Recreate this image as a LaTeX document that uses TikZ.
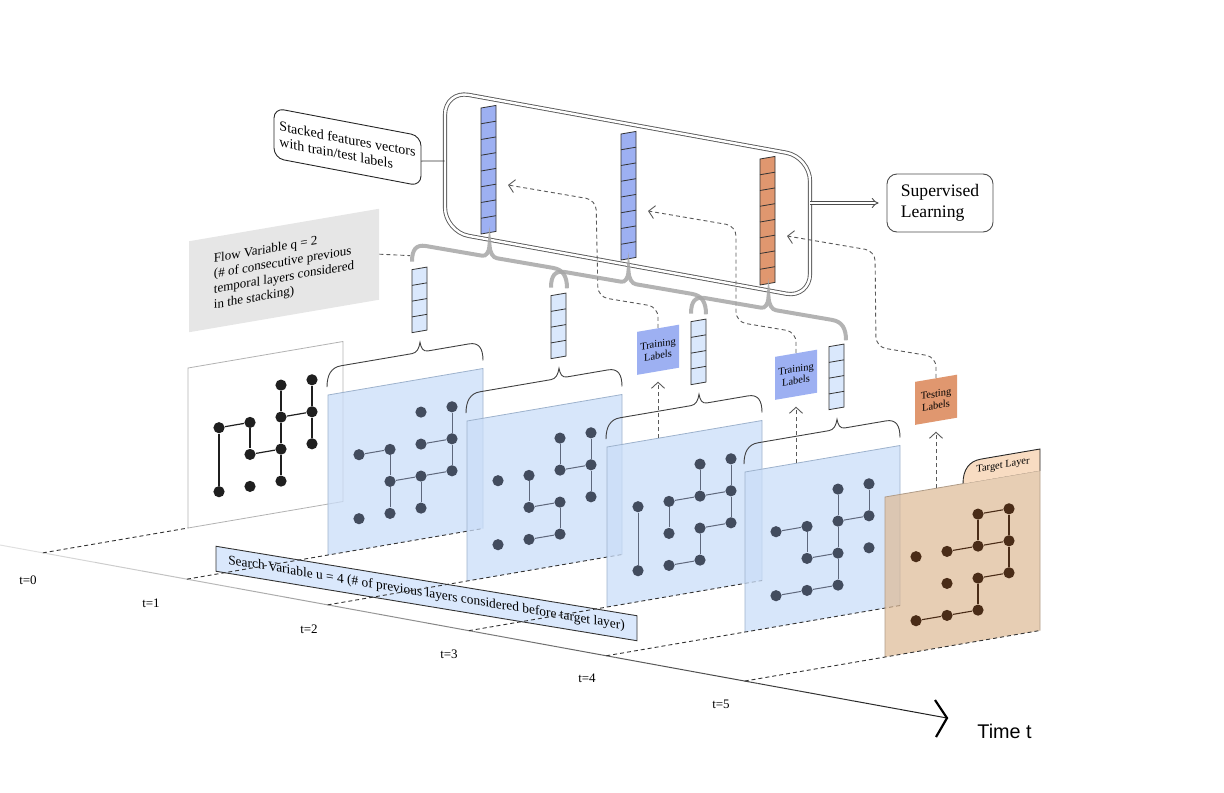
\documentclass[tikz,border=0pt]{standalone}
\usepackage{fontspec}
\setmainfont{Liberation Serif}
\newfontfamily\axisfont{Liberation Sans}
\usepackage{tikz}
\usetikzlibrary{arrows.meta,calc}
\definecolor{PlaneBlue}{HTML}{CADDF8}
\definecolor{PlaneEdge}{HTML}{9DB2CC}
\definecolor{CellBlue}{HTML}{DAE8FC}
\definecolor{StackBlue}{HTML}{9DB0F2}
\definecolor{StackOrange}{HTML}{E0976F}
\definecolor{TargetTan}{HTML}{DDB994}
\definecolor{TargetEdge}{HTML}{B09C88}
\definecolor{TabPeach}{HTML}{F8DCC2}
\definecolor{GraphSlate}{HTML}{424C5E}
\definecolor{EdgeSlate}{HTML}{5E687C}
\definecolor{GraphBrown}{HTML}{4A2C17}
\definecolor{FlowGray}{HTML}{E6E6E6}
\newcommand{\vertexlist}{0/1,1/1,2/0,3/0,2/1,3/1,1/2,2/2,3/2,0/3,1/3,2/3}

\begin{document}
\begin{tikzpicture}[x=0.5pt, y=-0.5pt, >={Straight Barb[length=3pt,width=6.5pt]},
  vertex/.style={circle, inner sep=0pt, minimum size=5.6pt},
  link0/.style={line width=0.6pt, black!88},
  linkmid/.style={line width=0.5pt, EdgeSlate},
  linktarget/.style={line width=0.55pt, GraphBrown},
  planeline/.style={line width=0.4pt, PlaneEdge},
  timefloor/.style={dash pattern=on 2pt off 1.5pt, line width=0.45pt, black!80},
  thinbrace/.style={line width=0.45pt, black!75},
  flowbrace/.style={line width=2pt, black!35, draw opacity=0.85},
  featcell/.style={fill=CellBlue, draw=black!80, line width=0.4pt},
  stackcell/.style={draw=black!80, line width=0.4pt},
  flowdash/.style={dash pattern=on 2pt off 1.5pt, line width=0.45pt, black!65},
  labelbox/.style={yslant=0.171, minimum width=21pt, minimum height=21.5pt,
    inner sep=0pt, align=center, font=\fontsize{5.2}{5.9}\selectfont},
  ticklabel/.style={font=\fontsize{6.5}{7}\selectfont, inner sep=0pt},
]
\useasboundingbox (0,0) rectangle (1224,792);

% time axis
\coordinate (ax0) at (0,545);
\coordinate (ax1) at (947,718);
\foreach \s in {0,...,19}{
  \pgfmathtruncatemacro{\axtone}{12+4*\s}
  \draw[black!\axtone, line width=0.5pt] ($(ax0)!\s/20!(ax1)$) -- ($(ax0)!\s/20+0.05!(ax1)$);
}
\draw[line width=1.1pt] ($(ax1)+(-12,-18)$) -- (ax1) -- ($(ax1)+(-11,19)$);
\node[font=\axisfont\fontsize{9.9}{11}\selectfont, anchor=west, inner sep=0pt] (timelbl) at (977,731) {Time t};
\foreach \t/\x/\y in {0/28/580, 1/151/603, 2/309/629, 3/449/654, 4/587/678, 5/721/704}
  \node[ticklabel] (tick\t) at (\x,\y) {t=\t};

\node[yslant=-0.165, draw=black!80, line width=0.45pt, fill=CellBlue, minimum width=210.5pt,
  minimum height=12.5pt, inner sep=0pt, font=\fontsize{6.7}{7.5}\selectfont]
  (searchvar) at (426.5,593.5) {Search Variable u = 4 (\# of previous layers considered before target layer)};

\node[yslant=0.171, fill=FlowGray, minimum width=95pt, minimum height=45.5pt, inner sep=0pt,
  align=left, font=\fontsize{6.5}{7.7}\selectfont]
  (flowvar) at (284,270.5) {Flow Variable q = 2\\(\# of consecutive previous\\temporal layers considered\\in the stacking)};

\node[yslant=-0.19, draw=black!85, line width=0.45pt, fill=white, rounded corners=5pt,
  minimum width=73.5pt, minimum height=25pt, inner sep=0pt, align=left,
  font=\fontsize{7}{8}\selectfont] (stacklbl) at (347.5,147) {Stacked features vectors\\with train/test labels};

\node[yslant=-0.182, draw=black!65, double, double distance=1.2pt, line width=0.45pt,
  rounded corners=12pt, minimum width=182.5pt, minimum height=70.5pt] (stackbox) at (627.5,194.3) {};
\draw[line width=0.45pt, black!80] (stacklbl.east) -- (stackbox.west);

\foreach \k/\bx/\by/\col in {1/481/108/StackBlue, 2/621/134/StackBlue, 3/760/159/StackOrange}{
  \begin{scope}[shift={(\bx,\by)}, yslant=0.171]
    \filldraw[stackcell, fill=\col] (0,0) -- (15,0) -- (15,126) -- (0,126) -- cycle;
    \foreach \c in {1,...,7} \draw[stackcell] (0,{15.75*\c}) -- (15,{15.75*\c});
    \coordinate (bvin\k) at (27,81.6);
  \end{scope}
}

\node[draw=black!70, line width=0.45pt, rounded corners=5pt, minimum width=53pt, minimum height=29pt,
  align=left, font=\fontsize{8.8}{10.5}\selectfont] (suplearn) at (940,203) {Supervised\\Learning};
\draw[double, double distance=1.3pt, line width=0.45pt, black!70, -{Implies}, shorten >=4pt]
  (stackbox.east |- suplearn.west) -- (suplearn.west);

% t = 0
\begin{scope}[shift={(188,368)}, yslant=0.171]
  \draw[black!30, line width=0.4pt] (0,0) -- (155,0) -- (155,160) -- (0,160) -- cycle;
  \coordinate (bl0) at (0,160);
  \coordinate (br0) at (155,160);
  \foreach \i/\j in \vertexlist
    \node[vertex, fill=black!88] (n0-\i\j) at ({31*(\i+1)},{32*(\j+1)+1}) {};
  \foreach \a/\b in {01/11,01/03,11/12,12/22,20/21,21/22,22/23,21/31,30/31,31/32}
    \draw[link0] (n0-\a) -- (n0-\b);
\end{scope}
\draw[timefloor] (intersection of ax0--ax1 and bl0--br0) -- (bl0);

% t = 1 ... 4
\foreach \k/\ox/\oy/\links in {
    1/328/395/{01/11,11/12,12/13,12/22,22/32,21/31,30/31,31/32,22/23},
    2/467/421/{11/12,12/22,22/23,13/23,20/21,21/31,30/31,31/32},
    3/607/447/{01/03,11/21,21/31,11/12,20/21,30/31,31/32,22/32,22/23,13/23},
    4/745/472/{01/11,11/12,12/22,20/21,21/22,22/23,21/31,30/31,03/13,13/23}}{
  \begin{scope}[shift={(\ox,\oy)}, yslant=0.171]
    \fill[PlaneBlue, fill opacity=0.75] (0,0) -- (155,0) -- (155,160) -- (0,160) -- cycle;
    \draw[planeline] (0,160) -- (0,0) -- (155,0) -- (155,160);
    \coordinate (bl\k) at (0,160);
    \coordinate (br\k) at (155,160);
    \coordinate (up\k) at (51,0);
    \coordinate (lab\k) at (51,-88.5);
    \coordinate (fb\k) at (84,-119);
    \foreach \i/\j in \vertexlist
      \node[vertex, fill=GraphSlate] (n\k-\i\j) at ({31*(\i+1)},{32*(\j+1)+1}) {};
    \foreach \a/\b in \links
      \draw[linkmid] (n\k-\a) -- (n\k-\b);
    \draw[thinbrace] (-1,-8) .. controls (-1,-20) and (3,-27) .. (13,-27) -- (84,-27)
      .. controls (89,-27) and (91,-31) .. (92,-37) .. controls (93,-31) and (95,-27) .. (100,-27)
      -- (141,-27) .. controls (151,-27) and (155,-20) .. (155,-8);
    \filldraw[featcell] (84,-111) -- (99,-111) -- (99,-48) -- (84,-48) -- cycle;
    \foreach \c in {1,2,3} \draw[featcell] (84,{-111+15.75*\c}) -- (99,{-111+15.75*\c});
  \end{scope}
  \draw[timefloor] (intersection of ax0--ax1 and bl\k--br\k) -- (br\k);
}

% t = 5, target layer
\begin{scope}[shift={(885,497)}, yslant=0.171]
  \fill[TargetTan, fill opacity=0.7] (0,0) -- (155,0) -- (155,160) -- (0,160) -- cycle;
  \draw[TargetEdge, line width=0.4pt] (0,160) -- (0,0) -- (155,0) -- (155,160);
  \coordinate (bl5) at (0,160);
  \coordinate (br5) at (155,160);
  \coordinate (up5) at (51,0);
  \coordinate (lab5) at (51,-88.5);
  \filldraw[fill=TabPeach, draw=black!85, line width=0.45pt] (78,0) .. controls (78,-14) and (84,-21.5) .. (96,-21.5)
    -- (155,-21.5) -- (155,0);
  \node[transform shape, inner sep=0pt, font=\fontsize{5.2}{6}\selectfont] (targetlbl) at (118,-11) {Target Layer};
  \foreach \i/\j in \vertexlist
    \node[vertex, fill=GraphBrown] (n5-\i\j) at ({31*(\i+1)},{32*(\j+1)+1}) {};
  \foreach \a/\b in {20/30,20/21,30/31,31/32,11/21,21/31,22/32,22/23,03/13,13/23}
    \draw[linktarget] (n5-\a) -- (n5-\b);
\end{scope}
\draw[timefloor] (intersection of ax0--ax1 and bl5--br5) -- (br5);

\node[labelbox, fill=StackBlue] (train1) at (lab3) {Training\\Labels};
\node[labelbox, fill=StackBlue] (train2) at (lab4) {Training\\Labels};
\node[labelbox, fill=StackOrange] (testlbl) at (lab5) {Testing\\Labels};

\draw[flowdash, ->] (up3) -- ($(train1.south)+(0,10)$);
\draw[flowdash, ->] (up4) -- ($(train2.south)+(0,10)$);
\draw[flowdash, ->] (up5) -- ($(testlbl.south)+(0,10)$);

\draw[flowdash, rounded corners=5pt, ->] (train1.north) -- ++(0,-21) -- ++(-60,-10) -- ($(bvin1)+(88,15)$) -- (bvin1);
\draw[flowdash, rounded corners=5pt, ->] (train2.north) -- ++(0,-21) -- ++(-60,-10) -- ($(bvin2)+(88,15)$) -- (bvin2);
\draw[flowdash, rounded corners=5pt, ->] (testlbl.north) -- ++(0,-21) -- ++(-60,-10) -- ($(bvin3)+(88,15)$) -- (bvin3);

\draw[flowdash] (flowvar.east) -- ($(fb1)+(-2,-6)$);
\foreach \k in {1,2,3}{
  \begin{scope}[shift={(fb\k)}, yslant=-0.172]
    \draw[flowbrace] (0,0) .. controls (0,-12) and (4,-18) .. (14,-18) -- (70,-18)
      .. controls (74,-18) and (77,-22) .. (77.5,-30) .. controls (78,-22) and (81,-18) .. (85,-18)
      -- (141,-18) .. controls (151,-18) and (155,-12) .. (155,0);
  \end{scope}
}
\end{tikzpicture}
\end{document}
